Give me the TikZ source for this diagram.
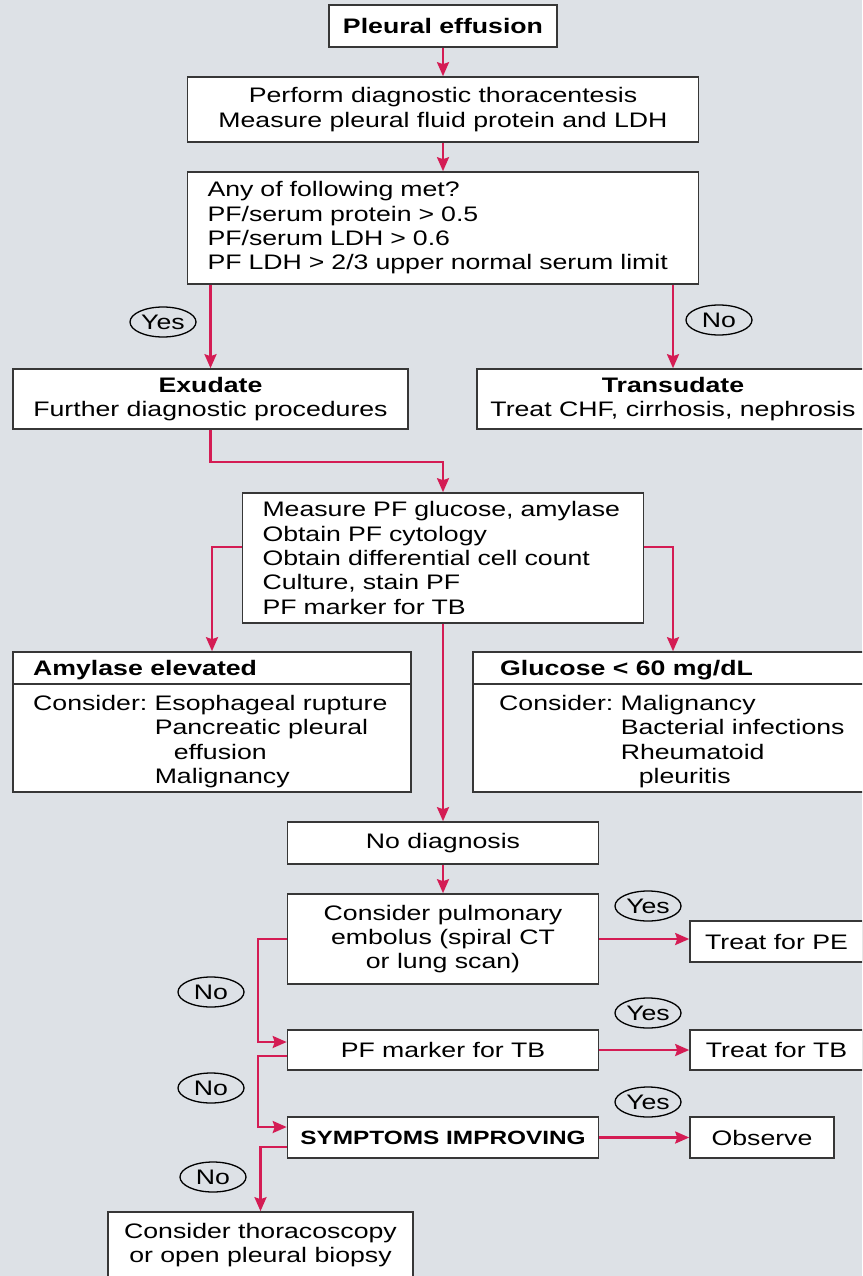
\documentclass[tikz,border=0pt]{standalone}
\usepackage{fontspec}
\setmainfont[FakeStretch=1.27]{Liberation Sans}
\usetikzlibrary{arrows.meta,shapes.geometric}
\definecolor{bgcol}{RGB}{221,225,230}
\definecolor{flow}{RGB}{212,28,84}
\definecolor{edge}{RGB}{55,55,55}
\newcommand{\flowfont}{\fontsize{21}{24.3}\selectfont}
\tikzset{
	box/.style={draw=edge,line width=1.6pt,fill=white,inner sep=0pt,align=center,font=\flowfont},
	lbox/.style={box,align=left,inner xsep=20pt},
	oval/.style={ellipse,draw=black,line width=1.3pt,inner sep=0pt,minimum width=66,minimum height=30,font=\flowfont},
	flowline/.style={draw=flow,line width=2.3pt,->}
}
\begin{document}
\begin{tikzpicture}[>={Stealth[length=14pt,width=12pt,inset=2pt]},x=1pt,y=-1pt]
	\useasboundingbox (0,0) rectangle (862,1276);
	\fill[bgcol] (0,0) rectangle (862,1276);
	\clip (0,0) rectangle (862,1276);
	% upper part
	\node[box,font=\flowfont\bfseries,minimum width=228,minimum height=42] (pleu) at (443,26) {Pleural effusion};
	\node[box,minimum width=511,minimum height=65] (thor) at (443,109.5) {Perform diagnostic thoracentesis\\Measure pleural fluid protein and LDH};
	\node[lbox,text width=471,minimum height=112] (crit) at (443,228) {Any of following met?\\PF/serum protein > 0.5\\PF/serum LDH > 0.6\\PF LDH > 2/3 upper normal serum limit};
	\node[box,minimum width=395,minimum height=60] (exud) at (210.5,399) {\textbf{Exudate}\\Further diagnostic procedures};
	\node[box,minimum width=392,minimum height=60] (trans) at (673,399) {\textbf{Transudate}\\Treat CHF, cirrhosis, nephrosis};
	\node[oval] (yes1) at (163,322) {Yes};
	\node[oval] (no1) at (719,320) {No};
	\node[lbox,text width=361,minimum height=130] (meas) at (443,558) {Measure PF glucose, amylase\\Obtain PF cytology\\Obtain differential cell count\\Culture, stain PF\\PF marker for TB};
	% the two result boxes
	\node[box,minimum width=398,minimum height=140] (amyl) at (212,722) {};
	\draw[draw=edge,line width=1.6pt] ([yshift=-33pt]amyl.north west) -- ([yshift=-33pt]amyl.north east);
	\node[anchor=west,inner sep=0pt,font=\flowfont\bfseries] (amylhd) at (33,670.5) {Amylase elevated};
	\node[anchor=west,inner sep=0pt,font=\flowfont] (amyltx) at (33,742) {\begin{tabular}{@{}l@{\ }l@{}}Consider: & Esophageal rupture\\ & Pancreatic pleural\\ & \hspace{19pt}effusion\\ & Malignancy\end{tabular}};
	\node[box,minimum width=400,minimum height=140] (gluc) at (673,722) {};
	\draw[draw=edge,line width=1.6pt] ([yshift=-33pt]gluc.north west) -- ([yshift=-33pt]gluc.north east);
	\node[anchor=west,inner sep=0pt,font=\flowfont\bfseries] (gluchd) at (500,670.5) {Glucose < 60 mg/dL};
	\node[anchor=west,inner sep=0pt,font=\flowfont] (gluctx) at (499,742) {\begin{tabular}{@{}l@{\ }l@{}}Consider: & Malignancy\\ & Bacterial infections\\ & Rheumatoid\\ & \hspace{18pt}pleuritis\end{tabular}};
	% lower part
	\node[box,minimum width=311,minimum height=42] (nodx) at (443,843) {No diagnosis};
	\node[box,minimum width=311,minimum height=90] (pemb) at (443,939) {Consider pulmonary\\embolus (spiral CT\\or lung scan)};
	\node[box,minimum width=311,minimum height=40] (pftb) at (443,1050) {PF marker for TB};
	\node[box,font=\fontsize{19.2}{22}\selectfont\bfseries,minimum width=311,minimum height=41] (symp) at (443,1137.5) {SYMPTOMS IMPROVING};
	\node[box,minimum width=173,minimum height=41] (tpe) at (776.5,941.5) {Treat for PE};
	\node[box,minimum width=173,minimum height=40] (ttb) at (776.5,1050) {Treat for TB};
	\node[box,minimum width=144,minimum height=41] (obs) at (762,1137.5) {Observe};
	\node[box,minimum width=305,minimum height=66] (biop) at (260.5,1245) {Consider thoracoscopy\\or open pleural biopsy};
	\node[oval] (yes2) at (648,906) {Yes};
	\node[oval] (yes3) at (648,1013) {Yes};
	\node[oval] (yes4) at (648,1102) {Yes};
	\node[oval] (no2) at (211,992) {No};
	\node[oval] (no3) at (211,1088) {No};
	\node[oval] (no4) at (213,1177) {No};
	% connectors
	\draw[flowline] (pleu) -- (thor);
	\draw[flowline] (thor) -- (crit);
	\draw[flowline] (crit.south -| exud.north) -- (exud.north);
	\draw[flowline] (crit.south -| trans.north) -- (trans.north);
	\draw[flowline] (exud.south) -- ++(0,32) -| (meas.north);
	\draw[flowline] ([yshift=11pt]meas.west) -| (amyl.north);
	\draw[flowline] ([yshift=11pt]meas.east) -| (gluc.north);
	\draw[flowline] (meas.south) -- (nodx.north);
	\draw[flowline] (nodx) -- (pemb);
	\draw[flowline] (pemb.east) -- (pemb.east -| tpe.west);
	\draw[flowline] (pftb.east) -- (pftb.east -| ttb.west);
	\draw[flowline] (symp.east) -- (symp.east -| obs.west);
	\draw[flowline] (pemb.west) -- ++(-29,0) |- ([yshift=8pt]pftb.west);
	\draw[flowline] ([yshift=-6pt]pftb.west) -- ++(-29,0) |- ([yshift=10.5pt]symp.west);
	\draw[flowline] ([yshift=-9.5pt]symp.west) -| (biop.north);
\end{tikzpicture}
\end{document}
